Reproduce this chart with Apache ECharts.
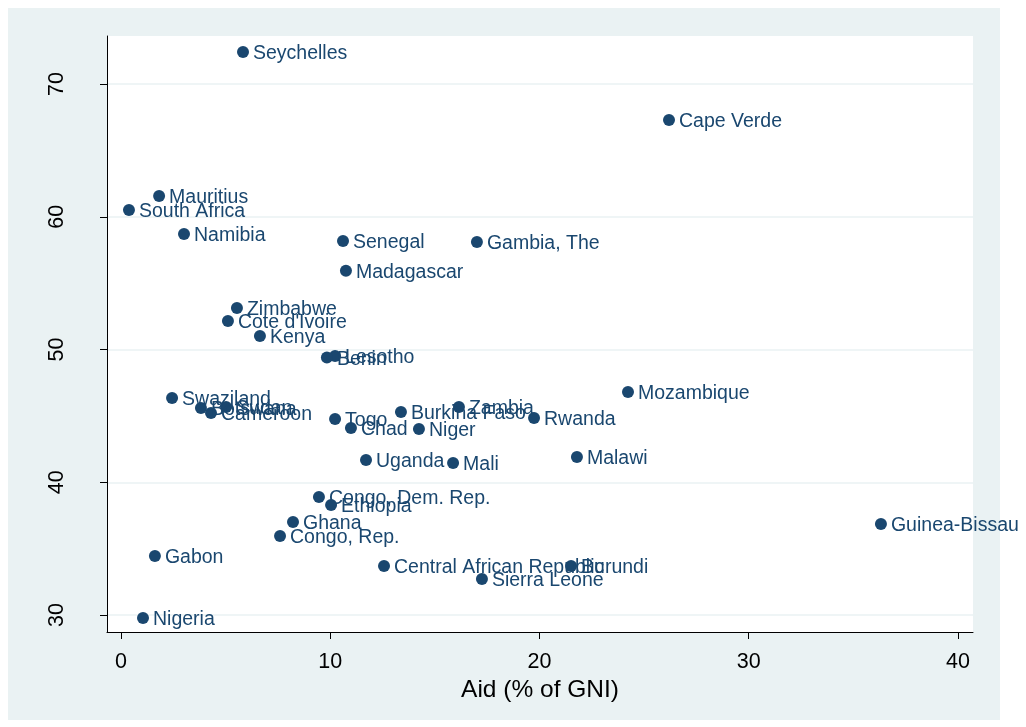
<!DOCTYPE html>
<html>
<head>
<meta charset="utf-8">
<script src="https://cdn.jsdelivr.net/npm/echarts@6/dist/echarts.min.js"></script>
<style>
html,body{margin:0;padding:0;background:#fff;}
#c{width:1026px;height:727px;}
</style>
</head>
<body>
<div id="c"></div>
<script>
const countries = ["Seychelles","Cape Verde","Mauritius","South Africa","Namibia","Senegal","Gambia, The","Madagascar","Zimbabwe","Cote d'Ivoire","Kenya","Lesotho","Benin","Mozambique","Swaziland","Botswana","Cameroon","Sudan","Togo","Chad","Burkina Faso","Niger","Zambia","Rwanda","Uganda","Mali","Malawi","Congo, Dem. Rep.","Ethiopia","Ghana","Congo, Rep.","Guinea-Bissau","Gabon","Central African Republic","Burundi","Sierra Leone","Nigeria"];
const aidValues = [5.83,26.19,1.82,0.38,3.01,10.61,17.01,10.75,5.54,5.11,6.64,10.23,9.84,24.23,2.44,3.82,4.30,5.02,10.23,10.99,13.38,14.24,16.15,19.74,11.71,15.87,21.79,9.46,10.04,8.22,7.60,36.32,1.62,12.57,21.51,17.25,1.05];
const yValues = [72.41,67.29,61.56,60.51,58.70,58.17,58.10,55.93,53.13,52.15,51.02,49.52,49.40,46.80,46.35,45.59,45.22,45.67,44.76,44.09,45.29,44.01,45.67,44.84,41.68,41.45,41.90,38.89,38.29,37.01,35.95,36.86,34.44,33.69,33.69,32.71,29.77];
const xTicks = [0,10,20,30,40];
const yTicks = [30,40,50,60,70];
const xTitle = "Aid (% of GNI)";

const navy = '#1a476f';
const font = 'Liberation Sans, Arial, sans-serif';
const points = countries.map((c,i)=>({name:c, value:[aidValues[i], yValues[i]]}));

const chart = echarts.init(document.getElementById('c'), null, {renderer:'canvas'});
chart.setOption({
  backgroundColor:'#ffffff',
  animation:false,
  graphic:[{type:'rect', z:-100, silent:true, shape:{x:8,y:8,width:992,height:712}, style:{fill:'#EAF2F3'}}],
  grid:{left:107, top:36, right:53, bottom:95, show:true, backgroundColor:'#ffffff', borderWidth:0},
  xAxis:{
    type:'value', min:-0.67, max:40.72,
    name:xTitle, nameLocation:'middle', nameGap:43,
    nameTextStyle:{fontFamily:font, fontSize:24.5, color:'#000'},
    axisLine:{show:true, onZero:false, lineStyle:{color:'#000', width:1}},
    axisTick:{show:true, length:7, customValues:xTicks, lineStyle:{color:'#000'}},
    axisLabel:{customValues:xTicks, margin:19, fontFamily:font, fontSize:21.5, color:'#000'},
    splitLine:{show:false}
  },
  yAxis:{
    type:'value', min:28.72, max:73.62,
    axisLine:{show:true, onZero:false, lineStyle:{color:'#000', width:1}},
    axisTick:{show:true, length:7, customValues:yTicks, lineStyle:{color:'#000'}},
    axisLabel:{customValues:yTicks, rotate:90, margin:39, fontFamily:font, fontSize:21.5, color:'#000'},
    splitLine:{show:true, lineStyle:{color:'#EAF2F3', width:1.5}}
  },
  series:[{
    type:'scatter',
    symbol:'circle', symbolSize:12,
    itemStyle:{color:navy, opacity:1},
    data:points,
    label:{show:true, position:'right', distance:4, offset:[0,2], formatter:'{b}', fontFamily:font, fontSize:19.5, color:navy}
  }]
});
</script>
</body>
</html>
